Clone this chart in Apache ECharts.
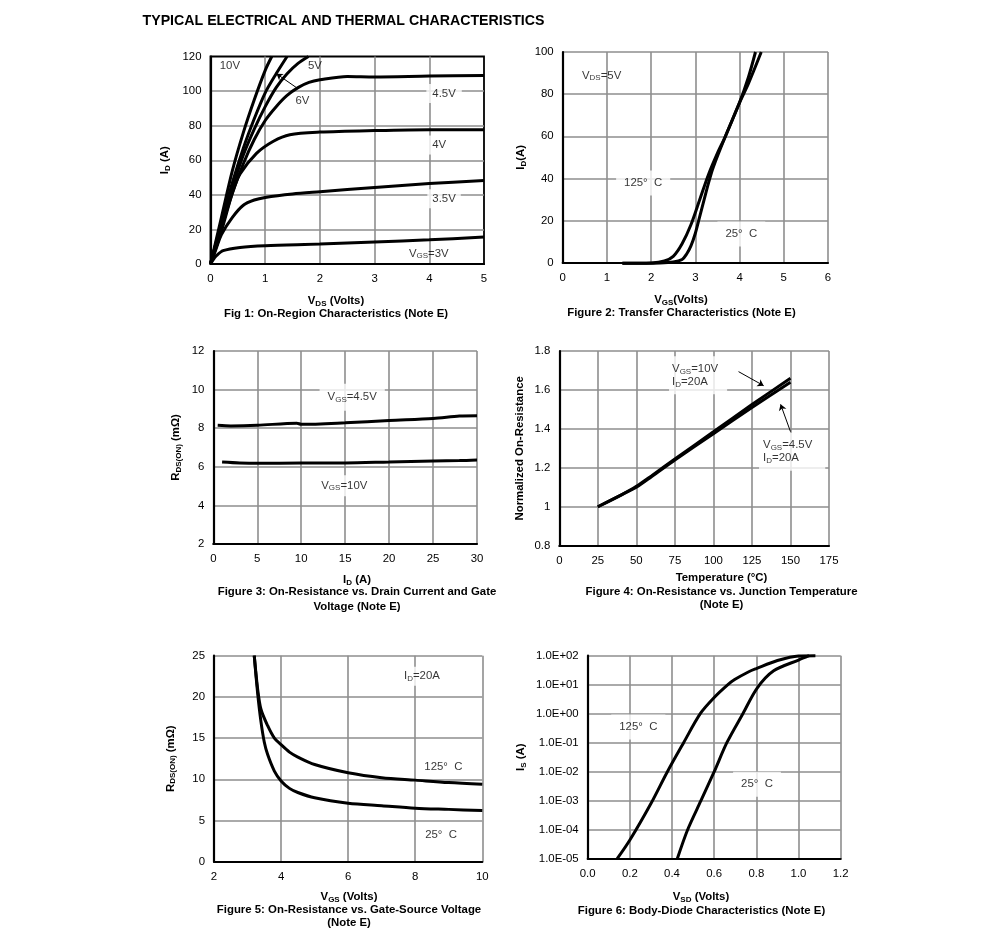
<!DOCTYPE html>
<html>
<head>
<meta charset="utf-8">
<title>Typical Electrical and Thermal Characteristics</title>
<style>
html, body { margin: 0; padding: 0; background: #fff; }
#chart { width: 991px; height: 940px; }
</style>
<script src="https://cdn.jsdelivr.net/npm/echarts@6/dist/echarts.min.js"></script>
</head>
<body>
<div id="chart"></div>
<script>
// Fig 1 curves [VDS, ID]
var fig1Vgs10 = [[0,0],[.2,27],[.4,54],[.6,76],[.8,95],[1,112],[1.12,120]];
var fig1Vgs6 = [[0,0],[.2,24],[.4,47],[.6,67],[.8,84],[1,99],[1.2,110],[1.4,120]];
var fig1Vgs5 = [[0,0],[.2,23],[.4,44],[.6,63],[.8,78],[1,91],[1.2,102],[1.4,110],[1.6,116],[1.79,120]];
var fig1Vgs45 = [[0,0],[.2,21],[.4,41],[.6,58],[.8,72],[1,83],[1.2,91],[1.4,97.5],[1.6,102],[1.8,105],[2,106.5],[2.5,108.5],[3,108.2],[4,108.7],[5,109]];
var fig1Vgs4 = [[0,0],[.2,19],[.4,41],[.54,52],[.84,64],[1.15,71],[1.45,74.8],[2,76.3],[3,77.2],[4,77.7],[5,77.7]];
var fig1Vgs35 = [[0,0],[.1,8.5],[.2,17],[.4,27],[.6,34],[.8,37],[1,38.5],[1.5,40.5],[2,41.8],[3,44.3],[4,46.5],[5,48.3]];
var fig1Vgs3 = [[0,0],[.05,2.5],[.1,4.5],[.23,7.7],[.54,9.6],[1,10.6],[2,11.5],[3,12.7],[4,14],[5,15.6]];

// Fig 2 curves [VGS, ID]
var fig2T125 = [[1.35,-.3],[2,-.1],[2.3,.8],[2.5,3],[2.7,9],[2.9,18],[3.1,30],[3.3,42],[3.5,52],[3.68,60],[4,76],[4.2,85],[4.49,100]];
var fig2T25 = [[1.35,-.3],[2.2,-.1],[2.5,.3],[2.7,1.5],[2.8,4],[2.9,8],[3,14],[3.1,22],[3.2,30],[3.3,38],[3.4,45],[3.68,60],[4,76],[4.2,88],[4.36,100]];

// Fig 3 curves [ID, RDS(ON)]
var fig3Vgs45 = [[.5,8.15],[2,8.12],[5,8.15],[9.5,8.26],[10,8.2],[15,8.28],[20,8.4],[25,8.5],[28,8.63],[30,8.65]];
var fig3Vgs10 = [[1,6.25],[3,6.2],[5,6.18],[10,6.2],[15,6.2],[20,6.25],[25,6.3],[28,6.32],[30,6.35]];

// Fig 4 curves [temperature, normalized RDS(ON)]
var fig4Vgs10 = [[25,1],[40,1.06],[50,1.105],[60,1.16],[75,1.245],[100,1.385],[125,1.525],[150,1.66]];
var fig4Vgs45 = [[25,1],[40,1.06],[50,1.1],[60,1.155],[75,1.24],[100,1.375],[125,1.51],[150,1.64]];

// Fig 5 curves [VGS, RDS(ON)]
var fig5T125 = [[3.2,25],[3.3,21],[3.4,18.5],[3.6,16.5],[3.8,15],[4,14.2],[4.25,13.3],[4.5,12.7],[5,11.8],[6,10.8],[7,10.2],[8,9.9],[9,9.6],[10,9.4]];
var fig5T25 = [[3.2,25],[3.3,20.5],[3.4,17],[3.5,14.5],[3.6,13],[3.8,11],[4,9.8],[4.25,8.9],[4.5,8.4],[5,7.75],[6,7.1],[7,6.8],[8,6.5],[9,6.35],[10,6.2]];

// Fig 6 curves [VSD, IS]
var fig6T125 = [[.14,1e-5],[.2,4.4e-5],[.3,8e-4],[.378,.01],[.455,.1],[.534,1],[.6,3.6],[.665,10],[.697,15],[.764,28],[.8,36],[.9,68],[1,98],[1.08,100]];
var fig6T25 = [[.425,1e-5],[.474,1e-4],[.537,1e-3],[.6,.01],[.66,.1],[.736,1],[.803,7.5],[.882,30],[1,71],[1.05,100]];

var FONT = '"Liberation Sans", Arial, sans-serif';
var FONT_SIZE = 11.4;
var SUB = { fontSize: 8, padding: [5, 0, 0, 0] };

var series = [];
var grids = [];
var xAxes = [];
var yAxes = [];
var titles = [];

function addPlot(box, x, y) {
    var i = grids.length;
    var black = box[4];
    grids.push({
        show: true, left: box[0], top: box[1], width: box[2], height: box[3],
        backgroundColor: 'transparent', borderWidth: black ? 1.8 : 0, borderColor: '#000'
    });
    xAxes.push(makeAxis(i, 'x', x, black));
    yAxes.push(makeAxis(i, 'y', y, black));
    return i;
}

function makeAxis(i, dim, o, black) {
    var axis = {
        gridIndex: i, type: o.type || 'value', min: o.min, max: o.max,
        axisLine: { show: true, onZero: false, lineStyle: { color: '#000', width: 2.2 } },
        axisTick: { show: false },
        axisLabel: {
            color: '#000', fontFamily: FONT, fontSize: FONT_SIZE, margin: dim == 'x' ? 9.5 : 9,
            showMinLabel: true, showMaxLabel: true, formatter: o.formatter
        },
        splitLine: { show: true, showMaxLine: !black, lineStyle: { color: '#8e8e8e', width: 1.6 } }
    };
    if (o.interval) axis.interval = o.interval;
    if (o.type == 'log') axis.logBase = 10;
    if (o.name) {
        axis.name = o.name;
        axis.nameLocation = 'middle';
        axis.nameGap = o.gap;
        axis.nameRotate = 90;
        axis.nameTextStyle = { color: '#000', fontFamily: FONT, fontSize: FONT_SIZE, fontWeight: 'bold', rich: { s: { fontSize: 8, fontWeight: 'bold', padding: [5, 0, 0, 0] } } };
    }
    return axis;
}

function addCurves(i, list) {
    list.forEach(function (data) {
        series.push({
            type: 'line', xAxisIndex: i, yAxisIndex: i, data: data, smooth: .3, showSymbol: false,
            clip: false, silent: true, z: 5, lineStyle: { color: '#000', width: 3 }
        });
    });
}

// text notes inside a plot, w/ white patch behind them that breaks the grid lines
function addNotes(i, notes, arrows) {
    var s = {
        type: 'scatter', xAxisIndex: i, yAxisIndex: i, symbolSize: 0, silent: true, z: 6,
        data: notes.map(function (n) {
            return {
                value: [n[0], n[1]],
                label: {
                    show: true, position: 'inside', formatter: n[2], color: '#000', fontFamily: FONT, fontSize: FONT_SIZE,
                    lineHeight: 13, align: n[4] ? 'left' : 'center', verticalAlign: 'middle',
                    backgroundColor: n[3] ? '#fff' : 'transparent', padding: n[3] || 0,
                    rich: { s: SUB }
                }
            };
        })
    };
    if (arrows) {
        s.markLine = {
            silent: true, symbol: ['none', 'arrow'], symbolSize: 6, animation: false,
            label: { show: false }, lineStyle: { color: '#000', width: 1, type: 'solid' },
            data: arrows.map(function (a) { return [{ coord: a[0] }, { coord: a[1] }]; })
        };
    }
    series.push(s);
}

function addText(text, x, y, size) {
    titles.push({
        text: text, left: x, top: y, textAlign: 'center', textVerticalAlign: 'middle', padding: 0,
        textStyle: {
            color: '#000', fontFamily: FONT, fontSize: size || FONT_SIZE, fontWeight: 'bold',
            rich: { s: { fontSize: 8, fontWeight: 'bold', padding: [5, 0, 0, 0] } }
        }
    });
}

// Fig 1
var p = addPlot([210.5, 56.5, 273.5, 207.5, true],
    { min: 0, max: 5, interval: 1 },
    { min: 0, max: 120, interval: 20, name: 'I{s|D} (A)', gap: 39 });
addCurves(p, [fig1Vgs10, fig1Vgs6, fig1Vgs5, fig1Vgs45, fig1Vgs4, fig1Vgs35, fig1Vgs3]);
addNotes(p, [
    [.354, 114.3, '10V'], [1.91, 114.3, '5V'], [1.68, 94.4, '6V'],
    [4.27, 98.6, '4.5V', [3, 6]], [4.18, 68.8, '4V', [3, 4]], [4.27, 37.8, '3.5V', [3, 5]],
    [3.99, 6, 'V{s|GS}=3V']
], [[[1.585, 101.7], [1.207, 110]]]);
addText('V{s|DS} (Volts)', 336, 301);
addText('Fig 1: On-Region Characteristics (Note E)', 336, 313.5);

// Fig 2
p = addPlot([562.7, 52, 265.3, 210.7],
    { min: 0, max: 6, interval: 1 },
    { min: 0, max: 100, interval: 20, name: 'I{s|D}(A)', gap: 35 });
addCurves(p, [fig2T125, fig2T25]);
addNotes(p, [
    [.88, 88.8, 'V{s|DS}=5V'], [1.82, 37.8, '125°  C', [6, 8]], [4.04, 13.6, '25°  C', [6, 8]]
]);
addText('V{s|GS}(Volts)', 681, 300);
addText('Figure 2: Transfer Characteristics (Note E)', 681.5, 313);

// Fig 3
p = addPlot([213.3, 351, 263.7, 193],
    { min: 0, max: 30, interval: 5 },
    { min: 2, max: 12, interval: 2, name: 'R{s|DS(ON)} (mΩ)', gap: 31 });
addCurves(p, [fig3Vgs45, fig3Vgs10]);
addNotes(p, [
    [15.8, 9.6, 'V{s|GS}=4.5V', [7, 8]], [14.9, 5.02, 'V{s|GS}=10V', [4, 6]]
]);
addText('I{s|D} (A)', 357, 580);
addText('Figure 3: On-Resistance vs. Drain Current and Gate', 357, 592);
addText('Voltage (Note E)', 357, 606.5);

// Fig 4
p = addPlot([559.3, 351, 269.7, 194.7],
    { min: 0, max: 175, interval: 25 },
    { min: .8, max: 1.8, interval: .2, name: 'Normalized On-Resistance', gap: 34 });
addCurves(p, [fig4Vgs10, fig4Vgs45]);
addNotes(p, [
    [71.2, 1.675, 'V{s|GS}=10V\nI{s|D}=20A', [6, 9, 6, 3], true],
    [129.6, 1.283, 'V{s|GS}=4.5V\nI{s|D}=20A', [6, 13, 6, 4], true]
], [[[116.3, 1.694], [132.6, 1.622]], [[150, 1.386], [143.6, 1.526]]]);
addText('Temperature (°C)', 721.5, 578);
addText('Figure 4: On-Resistance vs. Junction Temperature', 721.5, 591.5);
addText('(Note E)', 721.5, 605);

// Fig 5
p = addPlot([214, 655.7, 268.3, 206],
    { min: 2, max: 10, interval: 2 },
    { min: 0, max: 25, interval: 5, name: 'R{s|DS(ON)} (mΩ)', gap: 37 });
addCurves(p, [fig5T125, fig5T25]);
addNotes(p, [
    [8.2, 22.5, 'I{s|D}=20A', [3, 5]], [8.84, 11.5, '125°  C'], [8.77, 3.24, '25°  C']
]);
addText('V{s|GS} (Volts)', 349, 897);
addText('Figure 5: On-Resistance vs. Gate-Source Voltage', 349, 910);
addText('(Note E)', 349, 923);

// Fig 6
p = addPlot([587.7, 655.7, 253, 203],
    { min: 0, max: 1.2, interval: .2, formatter: function (v) { return v.toFixed(1); } },
    {
        type: 'log', min: 1e-5, max: 100, name: 'I{s|S} (A)', gap: 60,
        formatter: function (v) {
            var e = Math.round(Math.log10(v));
            return '1.0E' + (e < 0 ? '-' : '+') + (Math.abs(e) < 10 ? '0' : '') + Math.abs(e);
        }
    });
addCurves(p, [fig6T125, fig6T25]);
addNotes(p, [
    [.24, .35, '125°  C', [6, 8]], [.803, 3.7e-3, '25°  C', [6, 8]]
]);
addText('V{s|SD} (Volts)', 701, 897);
addText('Figure 6: Body-Diode Characteristics (Note E)', 701.5, 910.5);

addText('TYPICAL ELECTRICAL AND THERMAL CHARACTERISTICS', 343.5, 21, 14.2);

var chart = echarts.init(document.getElementById('chart'), null, { renderer: 'canvas' });
chart.setOption({
    animation: false,
    backgroundColor: '#fff',
    title: titles,
    grid: grids,
    xAxis: xAxes,
    yAxis: yAxes,
    series: series
});
</script>
</body>
</html>
